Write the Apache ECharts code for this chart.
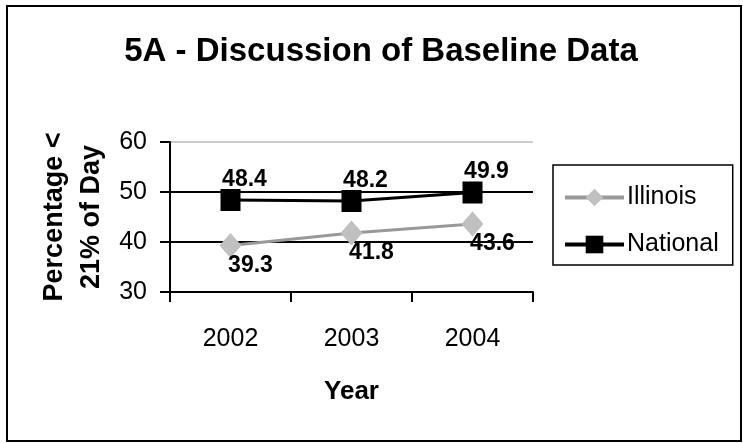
<!DOCTYPE html>
<html>
<head>
<meta charset="utf-8">
<script src="https://cdn.jsdelivr.net/npm/echarts@6/dist/echarts.min.js"></script>
<style>
html,body{margin:0;padding:0;background:#fff;}
#chart{width:743px;height:443px;}
</style>
</head>
<body>
<div id="chart"></div>
<script>
const years = ['2002', '2003', '2004'];
const illinois = [39.3, 41.8, 43.6];
const national = [48.4, 48.2, 49.9];
const yTicks = [30, 40, 50, 60];

const FONT = 'Liberation Sans, Arial, sans-serif';
const chart = echarts.init(document.getElementById('chart'), null, {renderer: 'canvas'});

const option = {
  backgroundColor: '#ffffff',
  animation: false,
  title: {
    text: '5A - Discussion of Baseline Data',
    left: 376,
    top: 30,
    textAlign: 'center',
    textStyle: {fontFamily: FONT, fontSize: 33, fontWeight: 'bold', color: '#000'}
  },
  graphic: [{
    type: 'rect',
    shape: {x: 7, y: 6, width: 734, height: 435},
    style: {fill: 'none', stroke: '#000', lineWidth: 2},
    silent: true,
    z: 100
  }],
  legend: {
    orient: 'vertical',
    left: 553,
    top: 165,
    padding: [20, 14, 8, 10],
    itemGap: 22,
    itemWidth: 59,
    itemHeight: 22,
    borderColor: '#000',
    borderWidth: 1.5,
    backgroundColor: '#fff',
    textStyle: {fontFamily: FONT, fontSize: 25, color: '#000', padding: [0, 0, 0, -2]},
    data: [
      {name: 'Illinois', lineStyle: {width: 4, color: '#999999'}},
      {name: 'National', lineStyle: {width: 4, color: '#000'}}
    ]
  },
  grid: {left: 170, right: 210, top: 142, bottom: 151, containLabel: false},
  xAxis: {
    type: 'category',
    data: years,
    boundaryGap: true,
    name: 'Year',
    nameLocation: 'middle',
    nameGap: 87,
    nameTextStyle: {fontFamily: FONT, fontSize: 26, fontWeight: 'bold', color: '#000'},
    axisLine: {lineStyle: {color: '#000', width: 2}},
    axisTick: {show: true, alignWithLabel: false, length: 10, lineStyle: {color: '#000', width: 2}},
    axisLabel: {fontFamily: FONT, fontSize: 25, color: '#000', margin: 35},
    splitLine: {show: false}
  },
  yAxis: {
    type: 'value',
    min: yTicks[0],
    max: yTicks[yTicks.length - 1],
    interval: 10,
    name: 'Percentage <\n21% of Day',
    nameLocation: 'middle',
    nameRotate: 90,
    nameGap: 60,
    nameTextStyle: {fontFamily: FONT, fontSize: 27, fontWeight: 'bold', color: '#000', lineHeight: 37, align: 'center'},
    axisLine: {show: true, lineStyle: {color: '#000', width: 2}},
    axisTick: {show: true, length: 10, lineStyle: {color: '#000', width: 2}},
    axisLabel: {fontFamily: FONT, fontSize: 25, color: '#000', margin: 23},
    splitLine: {show: true, lineStyle: {color: ['#000', '#000', '#000', '#cccccc'], width: 2}}
  },
  series: [
    {
      name: 'Illinois',
      type: 'line',
      data: illinois,
      symbol: 'diamond',
      symbolSize: [22, 25],
      itemStyle: {color: '#c0c0c0'},
      lineStyle: {color: '#999999', width: 3},
      z: 3,
      label: {
        show: true,
        position: 'bottom',
        distance: 0,
        offset: [20, -4],
        fontFamily: FONT, fontSize: 23, fontWeight: 'bold', color: '#000'
      }
    },
    {
      name: 'National',
      type: 'line',
      data: national,
      symbol: 'rect',
      symbolSize: [20, 22],
      itemStyle: {color: '#000'},
      lineStyle: {color: '#000', width: 3},
      z: 4,
      label: {
        show: true,
        position: 'top',
        distance: 0,
        offset: [14, 2],
        fontFamily: FONT, fontSize: 23, fontWeight: 'bold', color: '#000'
      }
    }
  ]
};
chart.setOption(option);
</script>
</body>
</html>
